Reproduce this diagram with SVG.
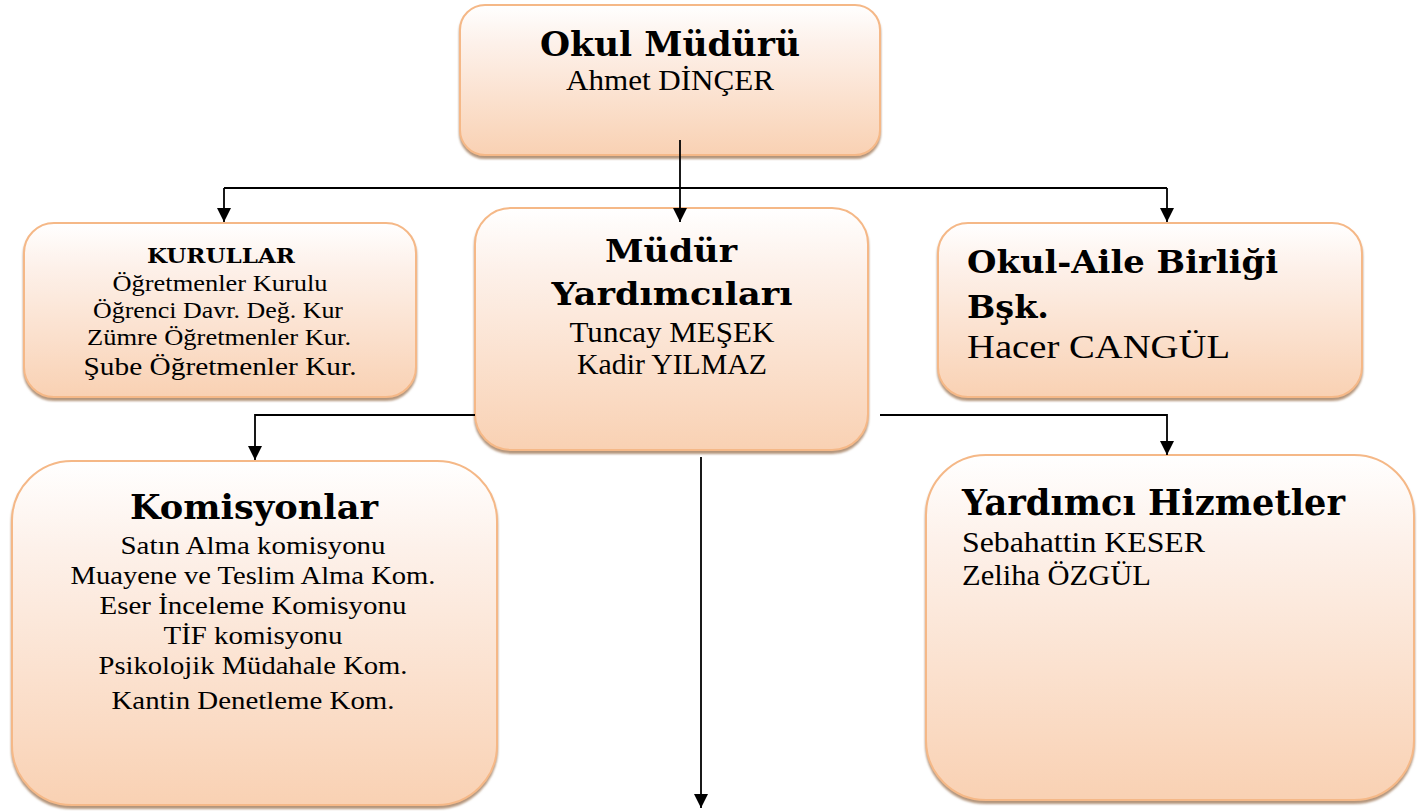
<svg xmlns="http://www.w3.org/2000/svg" width="1426" height="812" viewBox="0 0 1426 812">
<defs>
<linearGradient id="g" x1="0" y1="0" x2="0" y2="1">
<stop offset="0" stop-color="#ffffff"/>
<stop offset="0.25" stop-color="#fdf1ea"/>
<stop offset="1" stop-color="#f9d1b3"/>
</linearGradient>
<filter id="sh" x="-5%" y="-5%" width="110%" height="115%">
<feDropShadow dx="0" dy="3" stdDeviation="1.3" flood-color="#a07a5a" flood-opacity="0.8"/>
</filter>
<marker id="ah" viewBox="0 0 14 14" refX="14" refY="7" markerWidth="14" markerHeight="14" markerUnits="userSpaceOnUse" orient="auto">
<path d="M0,0 L14,7 L0,14 Z" fill="#000"/>
</marker>
</defs>
<style>
.box{fill:url(#g);stroke:#f5b887;stroke-width:2;filter:url(#sh)}
.t{font-family:"Liberation Serif","DejaVu Serif",serif;fill:#000}
.b{font-family:"DejaVu Serif","Liberation Serif",serif;font-weight:bold}
.c{text-anchor:middle}
.con{stroke:#000;stroke-width:1.8;fill:none}
</style>
<rect width="1426" height="812" fill="#fff"/>

<g id="okul-muduru">
<rect class="box" x="460" y="5" width="420" height="150" rx="25"/>
<text class="t b c" x="670" y="56" font-size="34" textLength="260" lengthAdjust="spacingAndGlyphs">Okul Müdürü</text>
<text class="t c" x="670" y="90" font-size="30" textLength="208" lengthAdjust="spacingAndGlyphs">Ahmet DİNÇER</text>
</g>

<g id="kurullar">
<rect class="box" x="24" y="223" width="392" height="174" rx="30"/>
<text class="t b c" x="221" y="263" font-size="20" textLength="148" lengthAdjust="spacingAndGlyphs">KURULLAR</text>
<text class="t c" x="220" y="291" font-size="23" textLength="215" lengthAdjust="spacingAndGlyphs">Öğretmenler Kurulu</text>
<text class="t c" x="218" y="318" font-size="23" textLength="250" lengthAdjust="spacingAndGlyphs">Öğrenci Davr. Değ. Kur</text>
<text class="t c" x="219" y="345" font-size="23" textLength="264" lengthAdjust="spacingAndGlyphs">Zümre Öğretmenler Kur.</text>
<text class="t c" x="220" y="375" font-size="26" textLength="273" lengthAdjust="spacingAndGlyphs">Şube Öğretmenler Kur.</text>
</g>

<g id="mudur-yardimcilari">
<rect class="box" x="475" y="208" width="393" height="242" rx="36"/>
<text class="t b c" x="671" y="262" font-size="31" textLength="132" lengthAdjust="spacingAndGlyphs">Müdür</text>
<text class="t b c" x="672" y="305" font-size="31" textLength="241" lengthAdjust="spacingAndGlyphs">Yardımcıları</text>
<text class="t c" x="672" y="342" font-size="29" textLength="205" lengthAdjust="spacingAndGlyphs">Tuncay MEŞEK</text>
<text class="t c" x="672" y="374" font-size="29" textLength="190" lengthAdjust="spacingAndGlyphs">Kadir YILMAZ</text>
</g>

<g id="okul-aile-birligi">
<rect class="box" x="938" y="223" width="424" height="174" rx="30"/>
<text class="t b" x="967" y="273" font-size="31" textLength="311" lengthAdjust="spacingAndGlyphs">Okul-Aile Birliği</text>
<text class="t b" x="967" y="318" font-size="31" textLength="82" lengthAdjust="spacingAndGlyphs">Bşk.</text>
<text class="t" x="967" y="358" font-size="34" textLength="263" lengthAdjust="spacingAndGlyphs">Hacer CANGÜL</text>
</g>

<g id="komisyonlar">
<rect class="box" x="12" y="461" width="485" height="344" rx="60"/>
<text class="t b c" x="254" y="519" font-size="34" textLength="248" lengthAdjust="spacingAndGlyphs">Komisyonlar</text>
<text class="t c" x="253" y="554" font-size="26" textLength="265" lengthAdjust="spacingAndGlyphs">Satın Alma komisyonu</text>
<text class="t c" x="253" y="584" font-size="26" textLength="365" lengthAdjust="spacingAndGlyphs">Muayene ve Teslim Alma Kom.</text>
<text class="t c" x="253" y="614" font-size="26" textLength="307" lengthAdjust="spacingAndGlyphs">Eser İnceleme Komisyonu</text>
<text class="t c" x="253" y="644" font-size="26" textLength="179" lengthAdjust="spacingAndGlyphs">TİF komisyonu</text>
<text class="t c" x="253" y="674" font-size="26" textLength="309" lengthAdjust="spacingAndGlyphs">Psikolojik Müdahale Kom.</text>
<text class="t c" x="253" y="709" font-size="26" textLength="283" lengthAdjust="spacingAndGlyphs">Kantin Denetleme Kom.</text>
</g>

<g id="yardimci-hizmetler">
<rect class="box" x="926" y="455" width="488" height="345" rx="60"/>
<text class="t b" x="962" y="515" font-size="35" textLength="383" lengthAdjust="spacingAndGlyphs">Yardımcı Hizmetler</text>
<text class="t" x="962" y="552" font-size="30" textLength="243" lengthAdjust="spacingAndGlyphs">Sebahattin KESER</text>
<text class="t" x="962" y="585" font-size="30" textLength="189" lengthAdjust="spacingAndGlyphs">Zeliha ÖZGÜL</text>
</g>

<g id="connectors">
<path class="con" d="M680,140 L680,222" marker-end="url(#ah)"/>
<path class="con" d="M224,188 L1167,188"/>
<path class="con" d="M224,188 L224,222" marker-end="url(#ah)"/>
<path class="con" d="M1167,188 L1167,222" marker-end="url(#ah)"/>
<path class="con" d="M475,415 L255,415 L255,460" marker-end="url(#ah)"/>
<path class="con" d="M880,415 L1167,415 L1167,455" marker-end="url(#ah)"/>
<path class="con" d="M701,457 L701,808" marker-end="url(#ah)"/>
</g>
</svg>
